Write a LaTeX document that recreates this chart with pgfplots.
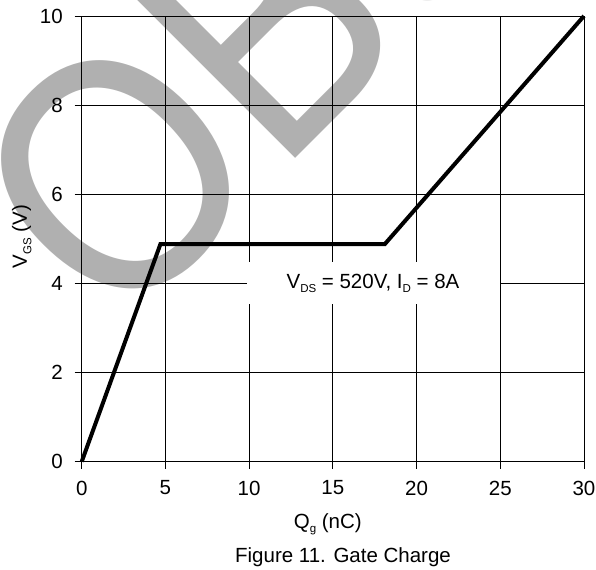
\documentclass[border=0pt]{standalone}
\usepackage{fontspec}
\setmainfont{Liberation Sans}
\usepackage{pgfplots}
\pgfplotsset{compat=1.18}
\definecolor{wm}{RGB}{176,176,176}
\newcommand\sub[1]{\raisebox{-4.5bp}{\fontsize{11.5bp}{12bp}\selectfont #1}}
\newcommand\mainfs{\fontsize{20.5bp}{24bp}\selectfont}
\begin{document}
\mainfs
\begin{tikzpicture}
\begin{axis}[
 set layers,
 scale only axis, width=502.3bp, height=445.7bp,
 xmin=0, xmax=30, ymin=0, ymax=10,
 xtick={0,5,...,30}, ytick={0,2,...,10},
 grid=major, grid style={black, line width=0.75bp},
 axis line style={black, line width=0.75bp},
 tick align=outside, tick pos=left, major tick length=7bp,
 tick style={black, line width=0.75bp},
 /pgf/number format/assume math mode=true,
 ticklabel style={font=\mainfs},
 yticklabel style={xshift=-5bp},
 xticklabel style={yshift=-5bp},
 clip=false,
 xlabel={Q\sub{g} (nC)}, ylabel={V\sub{GS} (V)},
 label style={font=\mainfs},
 xlabel style={at={(axis description cs:0.49,-0.1488)}, anchor=base},
 ylabel style={at={(axis description cs:-0.109,0.505)}, anchor=base},
]
\begin{pgfonlayer}{axis background}
\node[anchor=base west, inner sep=0pt, rotate=45, xscale=0.88, text=wm,
      font=\fontsize{335bp}{335bp}\selectfont] at (axis cs:2.09,2.78) {OBSOLETE};
\end{pgfonlayer}
\addplot[black, line width=4bp, line join=miter] coordinates {(0,0) (4.7,4.88) (18.1,4.88) (30,10)};
\node[fill=white, inner sep=0pt, minimum width=253bp, minimum height=42bp, font=\mainfs]
   at (axis cs:17.4,4.0) {V\sub{DS} = 520V, I\sub{D} = 8A};
\node[anchor=base, font=\mainfs] at (axis description cs:0.5203,-0.2273) {Figure 11. Gate Charge};
\coordinate (bbSW) at (axis cs:-4.880,-2.430);
\coordinate (bbNE) at (axis cs:30.718,10.359);
\end{axis}
\pgfresetboundingbox
\useasboundingbox (bbSW) rectangle (bbNE);
\end{tikzpicture}
\end{document}
